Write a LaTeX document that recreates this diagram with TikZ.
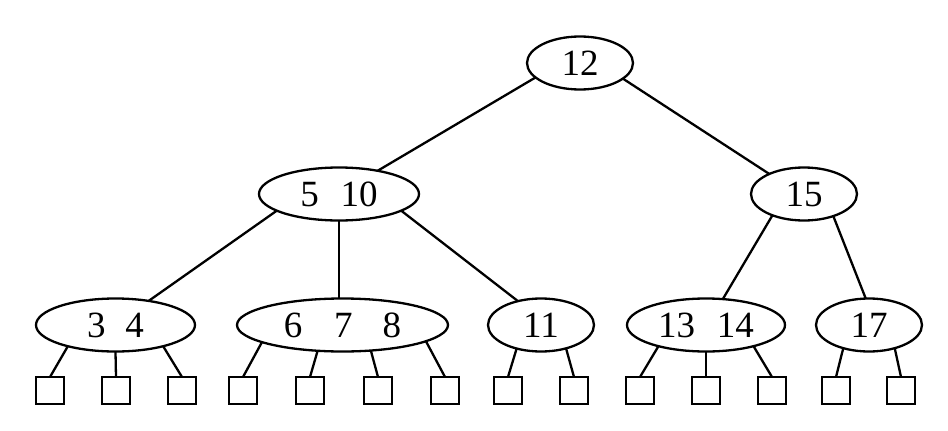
\documentclass[tikz,border=0pt]{standalone}
\usepackage{fontspec}
\setmainfont{Liberation Serif}
\usetikzlibrary{shapes.geometric}
\begin{document}
\begin{tikzpicture}[x=1pt,y=-1pt,line width=2.3pt,
  key/.style={draw,ellipse,inner sep=0pt,outer sep=0pt,minimum height=53pt,font=\fontsize{37}{40}\selectfont},
  leaf/.style={draw,rectangle,inner sep=0pt,outer sep=0pt,minimum width=28pt,minimum height=27pt}]
\useasboundingbox (0,0) rectangle (948,431);
% internal nodes
\node[key,minimum width=106pt] (r) at (580,63) {12};
\node[key,minimum width=160pt] (a) at (339,194) {5\hspace{22pt}10};
\node[key,minimum width=106pt] (b) at (804,194) {15};
\node[key,minimum width=159pt] (c) at (115.5,325) {3\hspace{20pt}4};
\node[key,minimum width=211pt] (d) at (342.5,325) {6\hspace{32pt}7\hspace{30pt}8};
\node[key,minimum width=106pt] (e) at (541,325) {11};
\node[key,minimum width=158pt] (f) at (706,325) {13\hspace{22pt}14};
\node[key,minimum width=106pt] (g) at (869,325) {17};
% leaves
\foreach \n/\x in {l1/50,l2/116,l3/182,l4/243,l5/310,l6/378,l7/445,l8/508,l9/574,l10/640,l11/706,l12/772,l13/836,l14/901}
  \node[leaf] (\n) at (\x,390.5) {};
% upper edges
\draw (r.-162) -- (a.31.4);
\draw (r.-20) -- (b.150.5);
\draw (a.-165) -- (c.36);
\draw (a.south) -- (a.south |- d.north);
\draw (a.-15.8) -- (e.134);
\draw (b.-146) -- (f.57.6);
\draw (b.-37.5) -- (g.97);
% leaf edges
\draw (c.-156.5) -- (l1.north);
\draw (c.-90) -- (l2.north);
\draw (c.-24) -- (l3.north);
\draw (d.-168) -- (l4.north);
\draw (d.-134) -- (l5.north);
\draw (d.-42.4) -- (l6.north);
\draw (d.-11.1) -- (l7.north);
\draw (e.-136.5) -- (l8.north);
\draw (e.-43) -- (l9.north);
\draw (f.-156) -- (l10.north);
\draw (f.-90) -- (l11.north);
\draw (f.-24) -- (l12.north);
\draw (g.-138) -- (l13.north);
\draw (g.-42.7) -- (l14.north);
\end{tikzpicture}
\end{document}
